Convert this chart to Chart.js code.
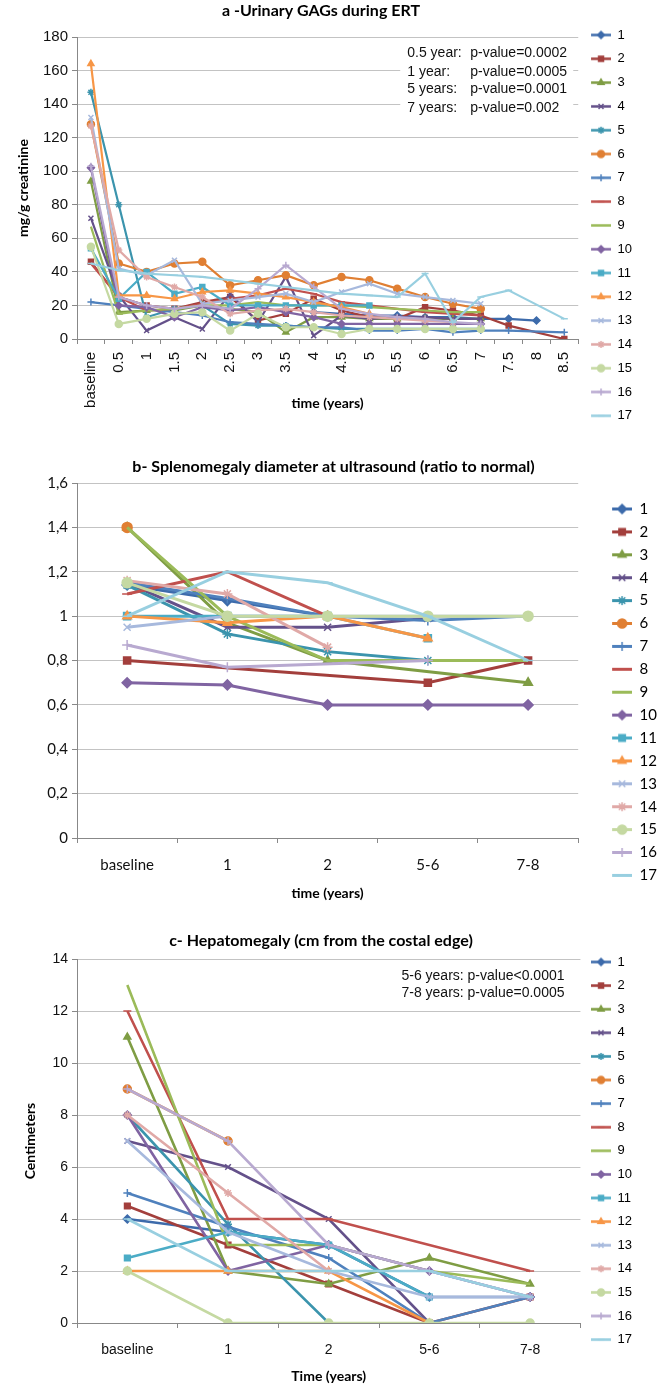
<!DOCTYPE html>
<html>
<head>
<meta charset="utf-8">
<script src="https://cdn.jsdelivr.net/npm/chart.js@4/dist/chart.umd.min.js"></script>
<style>
  body { margin: 0; background: #fff; }
  .wrap { position: relative; width: 669px; height: 1388px; }
  canvas { position: absolute; left: 0; }
</style>
</head>
<body>
<div class="wrap">
  <canvas id="chart-a" width="669" height="450" style="top:0px"></canvas>
  <canvas id="chart-b" width="669" height="470" style="top:450px"></canvas>
  <canvas id="chart-c" width="669" height="463" style="top:925px"></canvas>
</div>
<script>
// series names (patients)
const seriesNames = ['1','2','3','4','5','6','7','8','9','10','11','12','13','14','15','16','17'];
// series colours
const seriesColors = ['#3d6bab','#a33f3c','#7f9d44','#64518a','#3b94ad','#e07f33','#4f81bd','#c0504d','#9bbb59',
  '#8064a2','#4bacc6','#f79646','#a7b9dd','#e0a9a7','#c5d9a2','#b8a9d0','#98cfe0'];
// series markers
const seriesMarkers = ['rectRot','rect','triangle','crossRot','star','circle','cross','line',false,
  'rectRot','rect','triangle','crossRot','star','circle','cross','line'];

// a - urinary GAGs (mg/g creatinine)
const gagLabels = ['baseline','0.5','1','1.5','2','2.5','3','3.5','4','4.5','5','5.5','6','6.5','7','7.5','8','8.5'];
const gag1  = [null,null,null,null,null,null,null,null,16,15,14,14,13,13,12,12,11];
const gag2  = [46,25,20,18,22,25,11,15,24,17,13,12,19,17,14,8,null,0];
const gag3  = [94,16,17,17,20,18,16,4,13,13,12,12,12,12,12];
const gag4  = [72,26,5,13,6,27,10,37,2,14,12,13,13,12,12];
const gag5  = [147,80,13,18,20,9,8,8,7,6,6,6,6,6,6];
const gag6  = [128,45,40,45,46,32,35,38,32,37,35,30,25,21,18];
const gag7  = [22,20,18,16,14,10,9,8,7,7,5,5,6,4,5,5,null,4];
const gag8  = [45,25,17,18,21,24,26,30,27,22,20,18,16,15,14];
const gag9  = [67,15,17,18,20,20,22,20,20,20,19,18,17,16,16];
const gag10 = [102,20,19,13,19,17,19,16,13,9,9,9,9,9,9];
const gag11 = [54,24,40,27,31,20,20,20,20,20,20];
const gag12 = [164,26,26,24,28,29,27,25,22,19,15];
const gag13 = [132,42,38,47,21,23,25,27,22,28,33,27,25,23,21];
const gag14 = [127,53,37,31,25,15,17,18,16,14,13,12,11,10];
const gag15 = [55,9,12,15,16,5,15,7,7,3,6,6,6,6,6];
const gag16 = [103,25,20,18,20,18,30,44,31,18,15,13,12,10,9];
const gag17 = [45,41,39,38,37,35,33,31,29,27,26,25,39,10,25,29,null,12];
const gagNotes = ['0.5 year:','1 year:','5 years:','7 years:'];
const gagPValues = ['p-value=0.0002','p-value=0.0005','p-value=0.0001','p-value=0.002'];

// b - splenomegaly (ratio to normal)
const visitLabels = ['baseline','1','2','5-6','7-8'];
const spl1  = [1.14,1.07,1.0];
const spl2  = [0.8,null,null,0.7,0.8];
const spl3  = [1.4,0.97,0.8,null,0.7];
const spl4  = [1.15,0.95,0.95,0.99];
const spl5  = [1.14,0.92,0.84,0.8];
const spl6  = [1.4];
const spl7  = [1.15,1.08,1.0,0.98,1.0];
const spl8  = [1.1,1.2,1.0];
const spl9  = [1.4,1.0,0.8,0.8,0.8];
const spl10 = [0.7,0.69,0.6,0.6,0.6];
const spl11 = [1.0,1.0,1.0,0.9];
const spl12 = [1.0,0.97,1.0,0.9];
const spl13 = [0.95,1.0,1.0,1.0,1.0];
const spl14 = [1.16,1.1,0.86];
const spl15 = [1.15,1.0,1.0,1.0,1.0];
const spl16 = [0.87,0.77,null,0.8];
const spl17 = [1.0,1.2,1.15,1.0,0.8];

// c - hepatomegaly (cm from the costal edge)
const hep1  = [4,3.5,3,1,1];
const hep2  = [4.5,3,1.5,0,1];
const hep3  = [11,2,1.5,2.5,1.5];
const hep4  = [7,6,4,0];
const hep5  = [8,3.8,0];
const hep6  = [9,7];
const hep7  = [5,3.7,2.5,0,1];
const hep8  = [12,4,4,null,2];
const hep9  = [13,3,3,2,1.5];
const hep10 = [8,2,3,2,1];
const hep11 = [2.5,3.5,3,1];
const hep12 = [2,2,2,0];
const hep13 = [7,3.5,2,1,1];
const hep14 = [8,5,2];
const hep15 = [2,0,0,0,0];
const hep16 = [9,7,3,2,1];
const hep17 = [4,2,2,2,1];
const hepNotes = ['5-6 years: p-value<0.0001','7-8 years: p-value=0.0005'];

const ARIAL = "'Liberation Sans', Arial, sans-serif";
const CALIBRI = "Lato, 'Open Sans', sans-serif";

/*
  legend icon (line + marker)
*/
function makeIcon(color, style, iconW, lineW, lineWidth, radius) {
  const cv = document.createElement('canvas');
  const h = Math.ceil(radius * 2 + 6);
  cv.width = iconW;
  cv.height = h;
  const ctx = cv.getContext('2d');
  const y = h / 2;
  ctx.strokeStyle = color;
  ctx.fillStyle = color;
  ctx.lineWidth = lineWidth;
  ctx.beginPath();
  ctx.moveTo(iconW - lineW, y);
  ctx.lineTo(iconW, y);
  ctx.stroke();
  if (style && Chart.helpers && Chart.helpers.drawPoint) {
    ctx.lineWidth = 1.5;
    Chart.helpers.drawPoint(ctx, {pointStyle: style, radius: radius, rotation: 0, borderWidth: 1.5}, iconW - lineW / 2, y);
  }
  return cv;
}

/*
  datasets
*/
function makeDatasets(seriesList, pointRadius, lineWidth) {
  return seriesList.map((values, i) => ({
    label: seriesNames[i],
    data: values,
    borderColor: seriesColors[i],
    backgroundColor: seriesColors[i],
    pointStyle: seriesMarkers[i],
    pointRadius: pointRadius,
    pointHoverRadius: pointRadius,
    pointBorderWidth: 1.5,
    borderWidth: lineWidth,
    tension: 0,
    spanGaps: true,
    order: seriesList.length - i
  }));
}

/*
  legend options
*/
function legendOptions(font, padding, iconW, lineW, lineWidth, radius, topGap) {
  return {
    position: 'right',
    align: 'start',
    fullSize: true,
    title: {display: true, text: '', font: {size: 1}, padding: {top: topGap, bottom: 0}},
    labels: {
      usePointStyle: true,
      pointStyleWidth: iconW,
      padding: padding,
      font: font,
      color: '#000',
      generateLabels: (chart) => chart.data.datasets.map((ds, i) => ({
        text: ds.label,
        datasetIndex: i,
        hidden: false,
        fontColor: '#000',
        pointStyle: makeIcon(ds.borderColor, ds.pointStyle, iconW, lineW, lineWidth, radius),
        fillStyle: ds.borderColor,
        strokeStyle: ds.borderColor,
        lineWidth: 0
      }))
    }
  };
}

/*
  p-value notes inside the plot
*/
const notePlugin = {
  id: 'notes',
  beforeDatasetsDraw(chart, args, opts) {
    if (!opts.lines) return;
    const {ctx, chartArea} = chart;
    ctx.save();
    if (opts.box) {
      ctx.fillStyle = '#fff';
      ctx.fillRect(chartArea.right - opts.box[0], chartArea.top + opts.box[1], opts.box[2], opts.box[3]);
    }
    ctx.fillStyle = '#111';
    ctx.font = '14px ' + ARIAL;
    ctx.textBaseline = 'middle';
    ctx.textAlign = 'left';
    opts.lines.forEach((text, i) => {
      const y = chartArea.top + opts.rows[i];
      ctx.fillText(text, chartArea.right - opts.x, y);
      if (opts.values) {
        ctx.fillText(opts.values[i], chartArea.right - opts.valueX, y);
      }
    });
    ctx.restore();
  }
};

/*
  common scale options
*/
function yScale(min, max, step, font, callback, title, titleGap) {
  return {
    min: min,
    max: max,
    ticks: {stepSize: step, font: font, color: '#111', padding: 4, callback: callback},
    grid: {color: '#c3c3c3', tickColor: '#888', tickLength: 5},
    border: {color: '#888'},
    title: {display: !!title, text: title, font: {family: CALIBRI, weight: 'bold', size: 14}, color: '#000',
      padding: {top: titleGap, bottom: 0}},
    afterFit: (s) => { s.width = 77; }
  };
}

function xScale(font, padding, rotation, title, titleGap, height) {
  return {
    offset: true,
    grid: {display: true, drawOnChartArea: false, offset: true, color: '#888', tickLength: 5},
    border: {color: '#888'},
    ticks: {font: font, color: '#111', padding: padding, autoSkip: false, maxRotation: rotation, minRotation: rotation},
    title: {display: true, text: title, font: {family: CALIBRI, weight: 'bold', size: 14}, color: '#000',
      padding: {top: 0, bottom: titleGap}},
    afterFit: (s) => { s.height = height; }
  };
}

function titleOptions(text, top, bottom) {
  return {display: true, text: text, color: '#000', font: {family: CALIBRI, weight: 'bold', size: 16},
    padding: {top: top, bottom: bottom}};
}

// a - urinary GAGs
new Chart(document.getElementById('chart-a'), {
  type: 'line',
  data: {
    labels: gagLabels,
    datasets: makeDatasets([gag1,gag2,gag3,gag4,gag5,gag6,gag7,gag8,gag9,gag10,gag11,gag12,gag13,gag14,gag15,gag16,gag17], 3.5, 2.2)
  },
  options: {
    responsive: false,
    animation: false,
    layout: {padding: {right: 27}},
    scales: {
      x: xScale({family: ARIAL, size: 15}, 8, 90, 'time (years)', 38.6, 111),
      y: yScale(0, 180, 20, {family: ARIAL, size: 15}, (v) => v, 'mg/g creatinine', 14.6)
    },
    plugins: {
      title: titleOptions('a -Urinary GAGs during ERT', 1.4, 16.4),
      legend: legendOptions({family: ARIAL, size: 13}, 10.8, 22, 20, 2.5, 3.5, 16.5),
      tooltip: {enabled: false},
      notes: {lines: gagNotes, values: gagPValues, rows: [16, 35, 52, 71], x: 171, valueX: 108, box: [178, 4, 173, 77]}
    }
  },
  plugins: [notePlugin]
});

// b - splenomegaly
new Chart(document.getElementById('chart-b'), {
  type: 'line',
  data: {
    labels: visitLabels,
    datasets: makeDatasets([spl1,spl2,spl3,spl4,spl5,spl6,spl7,spl8,spl9,spl10,spl11,spl12,spl13,spl14,spl15,spl16,spl17], 5, 3)
  },
  options: {
    responsive: false,
    animation: false,
    layout: {padding: {right: 2}},
    scales: {
      x: xScale({family: CALIBRI, size: 15}, 13, 0, 'time (years)', 18.6, 82),
      y: yScale(0, 1.6, 0.2, {family: CALIBRI, size: 15}, (v) => String(Math.round(v * 10) / 10).replace('.', ','), '', 0)
    },
    plugins: {
      title: titleOptions('b- Splenomegaly diameter at ultrasound (ratio to normal)', 7.4, 6.4),
      legend: legendOptions({family: CALIBRI, size: 15}, 7.9, 46, 20, 3, 4.5, 42.4),
      tooltip: {enabled: false}
    }
  }
});

// c - hepatomegaly
new Chart(document.getElementById('chart-c'), {
  type: 'line',
  data: {
    labels: visitLabels,
    datasets: makeDatasets([hep1,hep2,hep3,hep4,hep5,hep6,hep7,hep8,hep9,hep10,hep11,hep12,hep13,hep14,hep15,hep16,hep17], 4, 2.6)
  },
  options: {
    responsive: false,
    animation: false,
    layout: {padding: {right: 27}},
    scales: {
      x: xScale({family: ARIAL, size: 14}, 14, 0, 'Time (years)', 3.6, 65),
      y: yScale(0, 14, 2, {family: ARIAL, size: 14}, (v) => v, 'Centimeters', 21.6)
    },
    plugins: {
      title: titleOptions('c- Hepatomegaly (cm from the costal edge)', 6.4, 8.4),
      legend: legendOptions({family: ARIAL, size: 13}, 10.6, 20, 20, 2.6, 3.5, 18.7),
      tooltip: {enabled: false},
      notes: {lines: hepNotes, rows: [17, 34], x: 179}
    }
  },
  plugins: [notePlugin]
});
</script>
</body>
</html>
